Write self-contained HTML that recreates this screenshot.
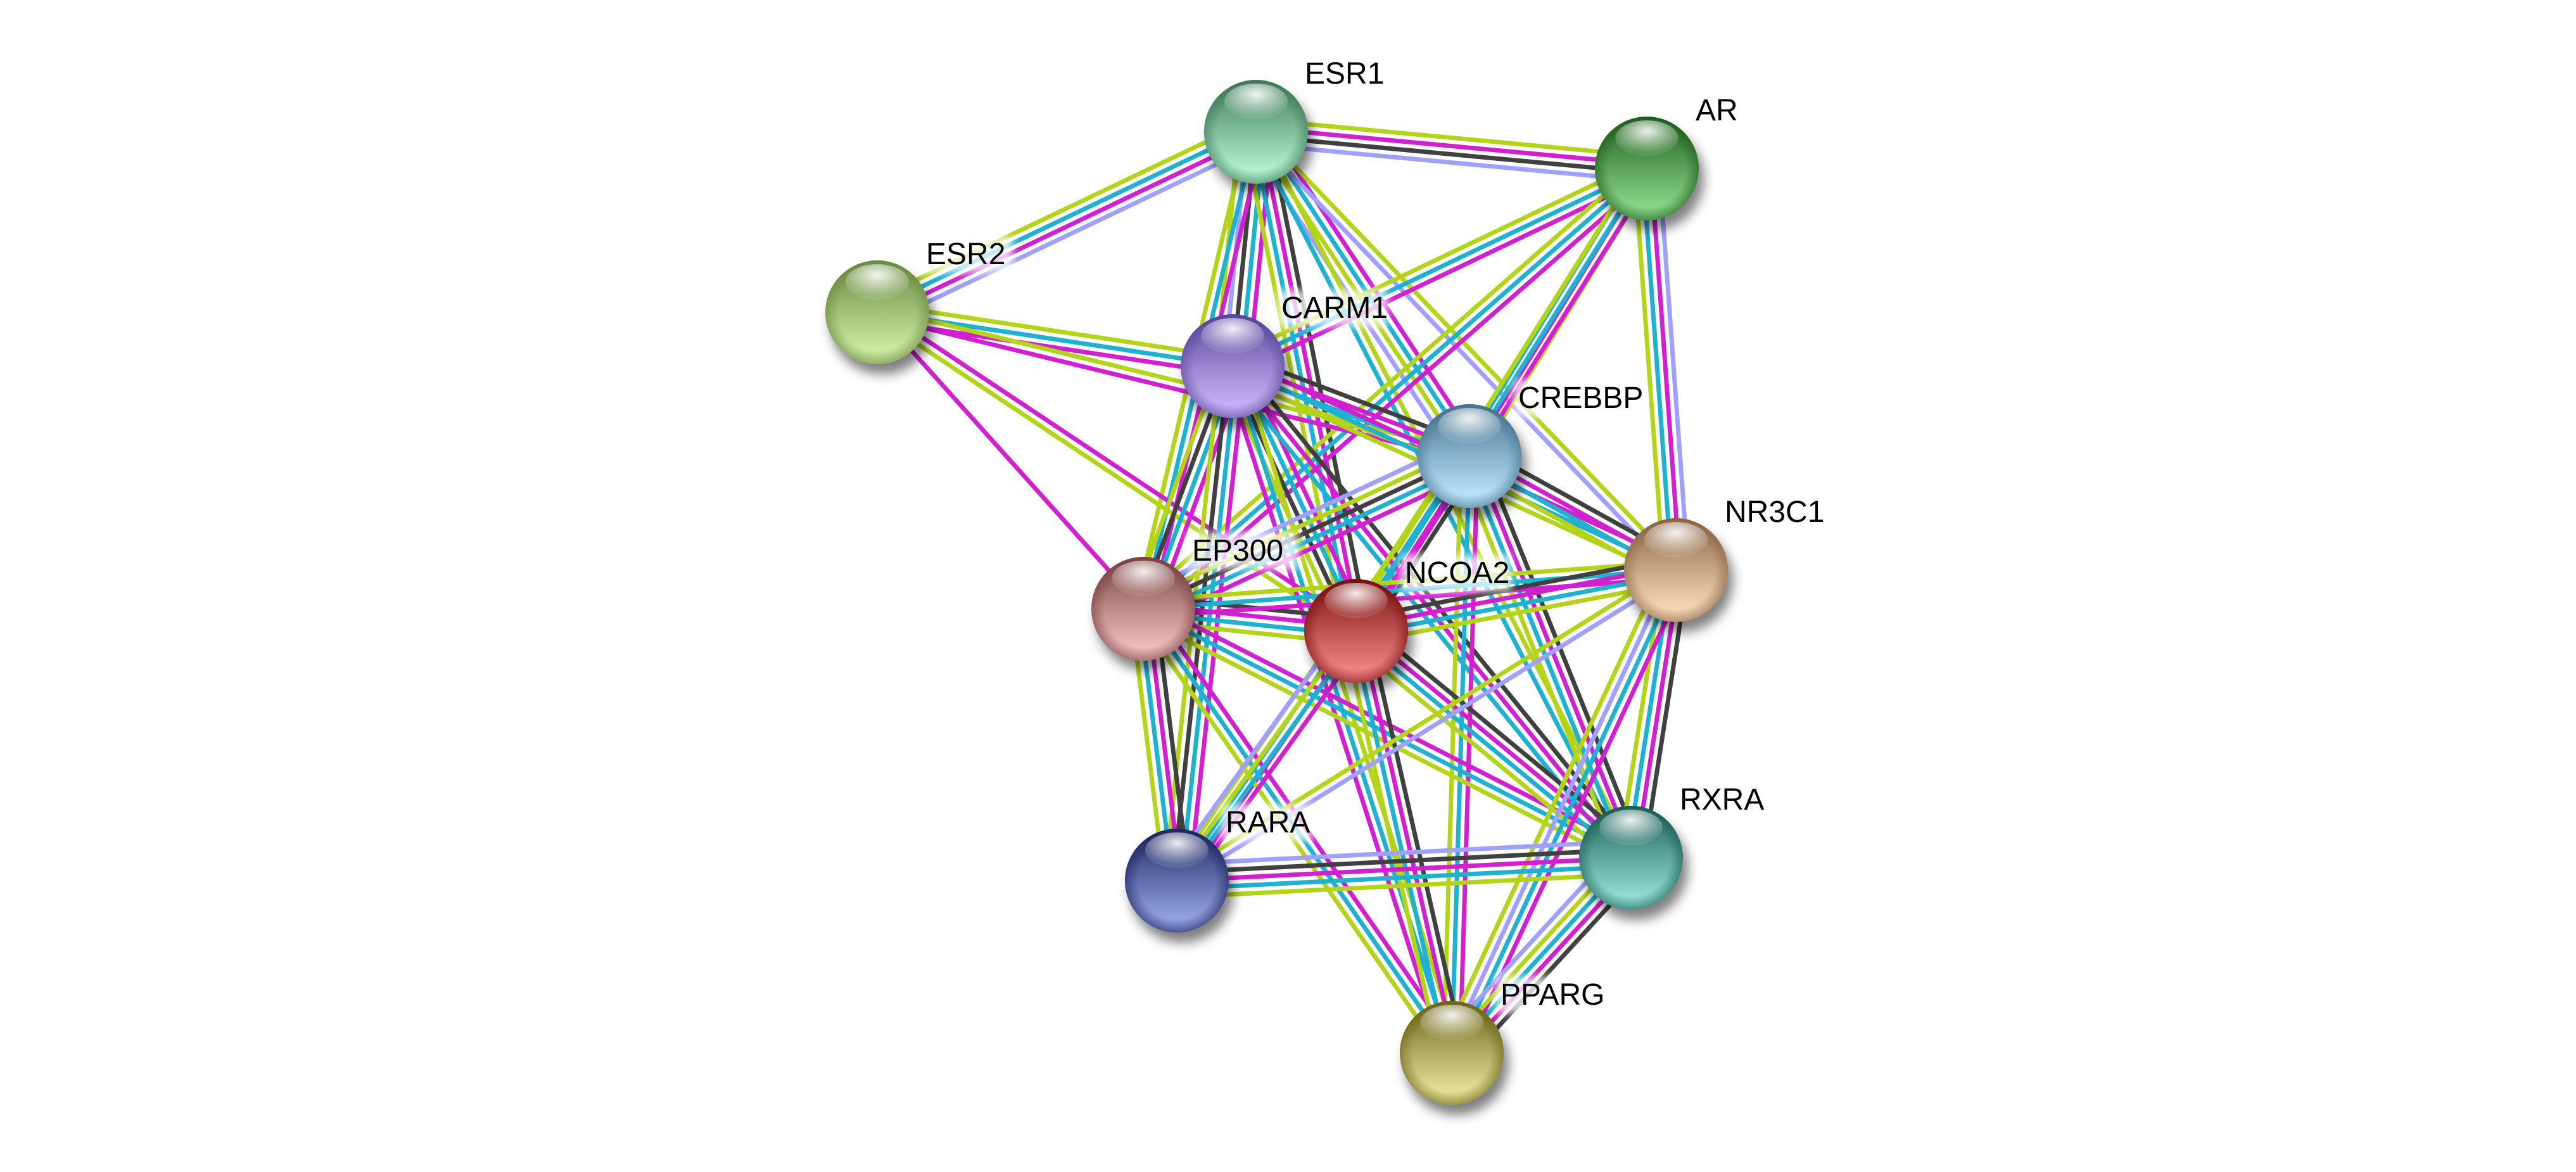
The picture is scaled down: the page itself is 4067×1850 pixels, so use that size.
<!DOCTYPE html>
<html><head><meta charset="utf-8">
<style>
html,body{margin:0;padding:0;background:#fff;}
svg{display:block;}
text{font-family:"Liberation Sans",sans-serif;font-size:48px;fill:#000;}
</style></head>
<body>
<svg id="s" width="4067" height="1850" viewBox="0 0 4067 1850" xmlns="http://www.w3.org/2000/svg">
<defs>
<filter id="sh" x="-50%" y="-50%" width="200%" height="200%"><feGaussianBlur stdDeviation="9"/></filter>
<filter id="halo" x="-20%" y="-40%" width="140%" height="180%"><feGaussianBlur stdDeviation="6"/></filter>
<radialGradient id="hl" cx="50%" cy="30%" r="60%"><stop offset="0" stop-color="#fff" stop-opacity="0.9"/><stop offset="1" stop-color="#fff" stop-opacity="0.1"/></radialGradient>
</defs>
<g id="edges"></g>
<g id="nodes"></g>
</svg>
<script>
var N={
ESR1:[1983,208,'#b0f0cc','#3f7a58'],
AR:[2600,266,'#88d484','#1e5e1e'],
ESR2:[1385,493,'#cce8a2','#6a8a40'],
CARM1:[1946,578,'#c4b0f4','#58469a'],
CREBBP:[2320,720,'#b6e0f6','#46728e'],
NR3C1:[2646,900,'#f2d6b4','#8a6444'],
EP300:[1805,961,'#eebaba','#7a4242'],
NCOA2:[2141,996,'#ee8080','#7a1010'],
RARA:[1858,1390,'#90a0e0','#1e2660'],
RXRA:[2575,1354,'#90dad0','#1a5e54'],
PPARG:[2292,1662,'#e2de94','#6a6418']
};
var C={y:'#b4d41c',m:'#d020d0',c:'#20b0d0',k:'#404040',l:'#a0a0ff'};
var E=[
['ESR1','AR','ymkl'],['ESR1','ESR2','lmcy'],['ESR1','CARM1','mckly'],['ESR1','CREBBP','mcyl'],
['ESR1','NCOA2','kmcy'],['ESR1','EP300','mcy'],['ESR1','NR3C1','yl'],['ESR1','RXRA','yc'],
['AR','CARM1','mcy'],['AR','EP300','mcy'],['AR','CREBBP','ymc'],['AR','NR3C1','lmcy'],['AR','NCOA2','mcy'],
['ESR2','CARM1','ycm'],['ESR2','CREBBP','ym'],['ESR2','NCOA2','my'],['ESR2','EP300','m'],
['CARM1','CREBBP','kmcy'],['CARM1','EP300','mcky'],['CARM1','NCOA2','mcky'],['CARM1','NR3C1','mcy'],
['CARM1','RXRA','kmc'],['CARM1','RARA','mcky'],['CARM1','PPARG','ycm'],
['CREBBP','EP300','mckyl'],['CREBBP','NCOA2','kmcy'],['CREBBP','NR3C1','kmcy'],['CREBBP','RXRA','kmcy'],
['CREBBP','RARA','mcy'],['CREBBP','PPARG','mcy'],
['EP300','NCOA2','kmcy'],['EP300','NR3C1','ycm'],['EP300','RARA','kmcy'],['EP300','RXRA','mcy'],['EP300','PPARG','mcy'],
['NCOA2','NR3C1','kmcy'],['NCOA2','RARA','mcyl'],['NCOA2','RXRA','kmcy'],['NCOA2','PPARG','kmcy'],
['NR3C1','RARA','ly'],['NR3C1','RXRA','kmcy'],['NR3C1','PPARG','mcly'],
['RARA','RXRA','lkmcy'],['RXRA','PPARG','kmcyl']
];
var ns='http://www.w3.org/2000/svg';
var eg=document.getElementById('edges'),ng=document.getElementById('nodes');
function el(t,a,p){var e=document.createElementNS(ns,t);for(var k in a)e.setAttribute(k,a[k]);p.appendChild(e);return e;}
E.forEach(function(e){
 var a=N[e[0]],b=N[e[1]],cs=e[2];
 var dx=b[0]-a[0],dy=b[1]-a[1],L=Math.hypot(dx,dy),px=-dy/L,py=dx/L;
 var n=cs.length;
 for(var i=0;i<n;i++){
  var o=(i-(n-1)/2)*13;
  el('line',{x1:a[0]+px*o,y1:a[1]+py*o,x2:b[0]+px*o,y2:b[1]+py*o,stroke:C[cs[i]],'stroke-width':7},eg);
 }
});
var defs=document.querySelector('defs');
Object.keys(N).forEach(function(k,i){
 var n=N[k],x=n[0],y=n[1],r=82;
 var g=el('linearGradient',{id:'g'+i,x1:'0',y1:'0',x2:'0',y2:'1'},defs);
 el('stop',{offset:'0','stop-color':n[3]},g);
 el('stop',{offset:'0.85','stop-color':n[2]},g);
 el('stop',{offset:'1','stop-color':n[2]},g);
 var g2=el('radialGradient',{id:'e'+i,cx:'50%',cy:'50%',r:'50%'},defs);
 el('stop',{offset:'0.75','stop-color':n[3],'stop-opacity':0},g2);
 el('stop',{offset:'1','stop-color':n[3],'stop-opacity':0.6},g2);
 el('ellipse',{cx:x+8,cy:y+16,rx:r,ry:r,fill:'#000',opacity:0.5,filter:'url(#sh)'},ng);
 el('circle',{cx:x,cy:y,r:r,fill:'url(#g'+i+')'},ng);
 el('circle',{cx:x,cy:y,r:r,fill:'url(#e'+i+')'},ng);
 el('ellipse',{cx:x,cy:y-48,rx:50,ry:28,fill:'url(#hl)'},ng);
 var tw=k.length*31;
 el('rect',{x:x+70,y:y-120,width:tw+20,height:58,fill:'#fff',opacity:0.75,filter:'url(#halo)'},ng);
 var t=el('text',{x:x+77,y:y-76},ng);t.textContent=k;
});
</script>
</body></html>
